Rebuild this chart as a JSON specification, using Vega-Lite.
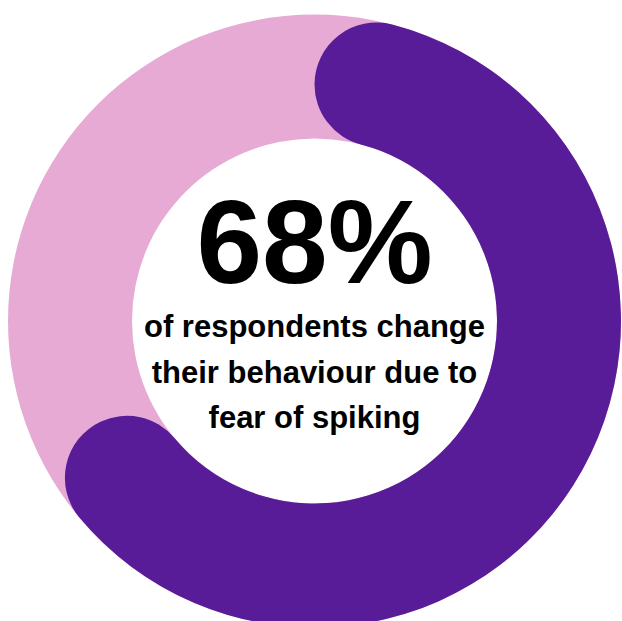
{
  "$schema": "https://vega.github.io/schema/vega-lite/v6.json",
  "autosize": "none",
  "padding": 0,
  "width": 629,
  "height": 642,
  "background": "white",
  "view": {"stroke": null},
  "datasets": {
    "ring": [
      {"group": "All respondents", "start": 0, "end": 100},
      {"group": "Change behaviour", "start": 0, "end": 68}
    ],
    "labels": [
      {"headline": "68%", "caption": "of respondents change\ntheir behaviour due to\nfear of spiking"}
    ]
  },
  "layer": [
    {
      "data": {"name": "ring"},
      "transform": [{"filter": "datum.group === 'All respondents'"}],
      "mark": {"type": "arc", "outerRadius": 306.5, "innerRadius": 182.5, "color": "#E6AAD4"},
      "encoding": {
        "theta": {"field": "start", "type": "quantitative", "stack": null, "scale": {"domain": [0, 100], "range": [0, 6.283185307]}},
        "theta2": {"field": "end"}
      }
    },
    {
      "data": {"name": "ring"},
      "transform": [{"filter": "datum.group === 'Change behaviour'"}],
      "mark": {"type": "arc", "outerRadius": 306.5, "innerRadius": 182.5, "cornerRadius": 62, "color": "#581C98"},
      "encoding": {
        "theta": {"field": "start", "type": "quantitative", "stack": null, "scale": {"domain": [0, 100], "range": [0, 6.283185307]}},
        "theta2": {"field": "end"}
      }
    },
    {
      "data": {"name": "labels"},
      "mark": {"type": "text", "font": "Liberation Sans, Arial, sans-serif", "fontWeight": "bold", "fontSize": 118, "align": "center", "baseline": "alphabetic", "dy": -38, "color": "black"},
      "encoding": {"text": {"field": "headline"}}
    },
    {
      "data": {"name": "labels"},
      "mark": {"type": "text", "font": "Liberation Sans, Arial, sans-serif", "fontWeight": "bold", "fontSize": 31, "align": "center", "baseline": "alphabetic", "dy": 16, "lineBreak": "\n", "lineHeight": 45.5, "color": "black"},
      "encoding": {"text": {"field": "caption"}}
    }
  ]
}
